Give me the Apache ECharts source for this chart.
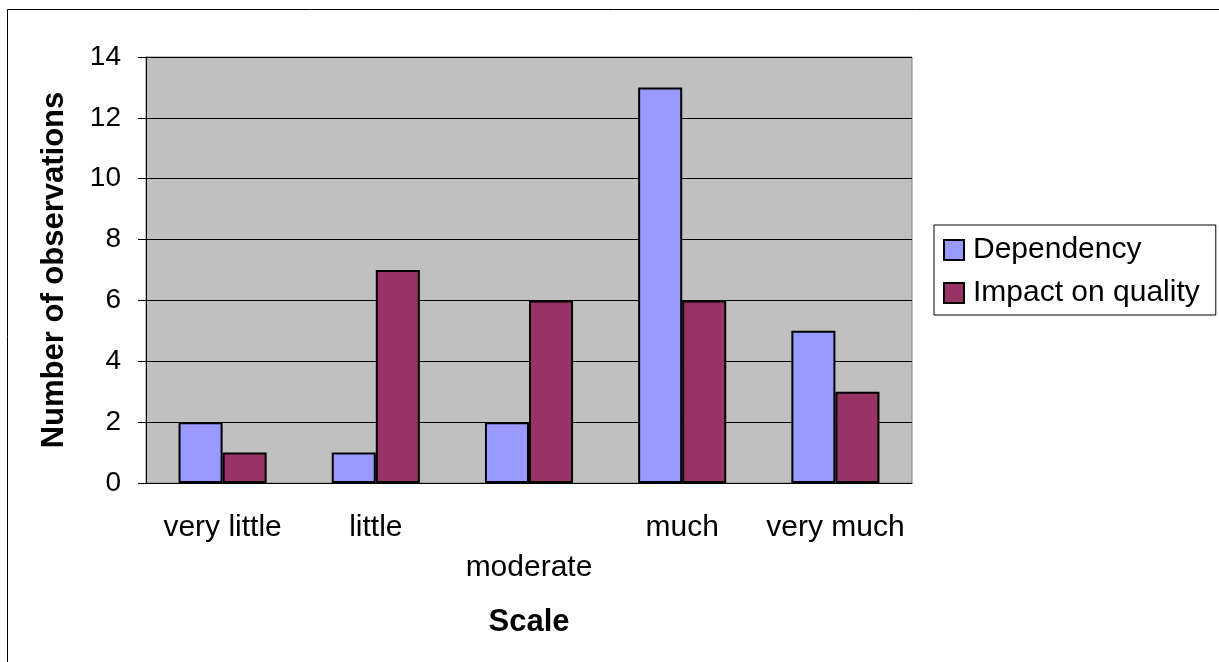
<!DOCTYPE html>
<html>
<head>
<meta charset="utf-8">
<title>Scale</title>
<script src="https://cdn.jsdelivr.net/npm/echarts@6/dist/echarts.min.js"></script>
<style>
    html, body { margin: 0; padding: 0; background: #fff; }
    #chart { width: 1219px; height: 662px; }
</style>
</head>
<body>
<div id="chart"></div>
<script>
var categories = ['very little', 'little', 'moderate', 'much', 'very much'];
var dependency = [2, 1, 2, 13, 5];
var impactOnQuality = [1, 7, 6, 6, 3];
var seriesNames = ['Dependency', 'Impact on quality'];

var font = 'Liberation Sans, Arial, sans-serif';
var chart = echarts.init(document.getElementById('chart'));

chart.setOption({
    animation: false,
    textStyle: { fontFamily: font },
    graphic: [{
        type: 'rect',
        shape: { x: 7.5, y: 9.5, width: 1230, height: 670 },
        style: { fill: 'none', stroke: '#000', lineWidth: 1 },
        silent: true
    }],
    grid: {
        left: 146, right: 307, top: 57, bottom: 179,
        show: true, backgroundColor: '#C0C0C0', borderColor: '#808080', borderWidth: 1
    },
    legend: {
        orient: 'vertical',
        left: 934, top: 225,
        padding: [10, 16, 7, 9],
        itemWidth: 20, itemHeight: 20, itemGap: 13,
        borderColor: '#000', borderWidth: 1,
        backgroundColor: '#fff',
        icon: 'rect',
        textStyle: { fontSize: 30, lineHeight: 30, color: '#000', fontFamily: font, padding: [0, 0, 0, 4] },
        data: seriesNames
    },
    xAxis: {
        type: 'category',
        data: categories,
        name: 'Scale',
        nameLocation: 'middle',
        nameGap: 124,
        nameTextStyle: { fontSize: 31, fontWeight: 'bold', color: '#000' },
        axisLine: { lineStyle: { color: '#000' } },
        axisTick: { length: 8, lineStyle: { color: '#000' } },
        axisLabel: {
            fontSize: 30, color: '#000', margin: 25, interval: 0, lineHeight: 40,
            formatter: function (v, i) { return i === 2 ? '\n' + v : v; }
        }
    },
    yAxis: {
        type: 'value',
        min: 0, max: 14, interval: 2,
        name: 'Number of observations',
        nameLocation: 'middle',
        nameGap: 76,
        nameTextStyle: { fontSize: 31, fontWeight: 'bold', color: '#000' },
        axisLine: { show: true, lineStyle: { color: '#000' } },
        axisTick: { show: true, length: 8, lineStyle: { color: '#000' } },
        axisLabel: { fontSize: 28, color: '#000', margin: 25 },
        splitLine: { lineStyle: { color: '#000', width: 1 } }
    },
    series: [{
        name: seriesNames[0],
        type: 'bar',
        data: dependency,
        barGap: '0%',
        barCategoryGap: '42.5%',
        itemStyle: { color: '#9999FF', borderColor: '#000', borderWidth: 2 }
    }, {
        name: seriesNames[1],
        type: 'bar',
        data: impactOnQuality,
        itemStyle: { color: '#993366', borderColor: '#000', borderWidth: 2 }
    }]
});
</script>
</body>
</html>
